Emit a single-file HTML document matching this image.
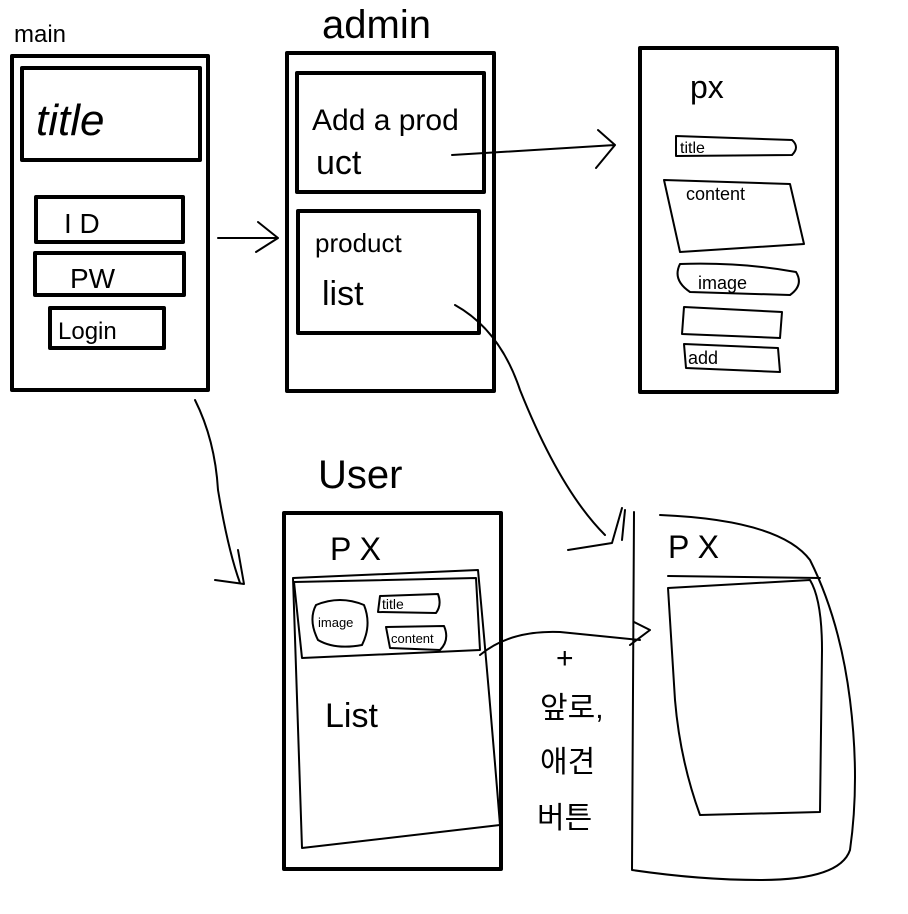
<!DOCTYPE html>
<html><head><meta charset="utf-8"><style>
html,body{margin:0;padding:0;background:#fff;width:908px;height:914px;overflow:hidden}
svg{display:block}
text{font-family:"Liberation Sans","Noto Sans CJK KR",sans-serif;fill:#000}
</style></head><body>
<svg width="908" height="914" viewBox="0 0 908 914" xmlns="http://www.w3.org/2000/svg">
<g fill="none" stroke="#000" stroke-width="4" stroke-linejoin="round" stroke-linecap="round">
<!-- main -->
<rect x="12" y="56" width="196" height="334"/>
<rect x="22" y="68" width="178" height="92"/>
<rect x="36" y="197" width="147" height="45"/>
<rect x="35" y="253" width="149" height="42"/>
<rect x="50" y="308" width="114" height="40"/>
<!-- arrow main->admin -->
<path d="M218 238 L278 238 M258 222 L278 238 L256 252" stroke-width="2"/>
<!-- admin -->
<rect x="287" y="53" width="207" height="338"/>
<rect x="297" y="73" width="187" height="119"/>
<rect x="298" y="211" width="181" height="122"/>
<path d="M452 155 L615 145 M598 130 L615 145 L596 168" stroke-width="2"/>
<!-- px box -->
<rect x="640" y="48" width="197" height="344"/>
<path d="M676 136 L792 140 Q800 147 792 155 L676 156 Z" stroke-width="2"/>
<path d="M664 180 L790 184 L804 244 L680 252 Z" stroke-width="2"/>
<path d="M680 264 Q742 262 796 272 Q804 285 790 295 L690 292 Q672 280 680 264 Z" stroke-width="2"/>
<path d="M684 307 L782 312 L780 338 L682 334 Z" stroke-width="2"/>
<path d="M684 344 L778 348 L780 372 L686 368 Z" stroke-width="2"/>
<!-- curve product list -> detail -->
<path d="M455 305 Q500 330 520 390 Q560 490 605 535" stroke-width="2"/>
<path d="M568 550 L612 543 L622 508" stroke-width="2"/>
<!-- main -> user -->
<path d="M195 400 Q215 440 218 490 Q228 550 240 583 M215 580 L244 584 L238 550" stroke-width="2"/>
<!-- user -->
<rect x="284" y="513" width="217" height="356"/>
<path d="M293 578 L478 570 Q490 700 500 825 L302 848 L293 578" stroke-width="2"/>
<path d="M294 582 L476 578 L480 650 L302 658 Z" stroke-width="2"/>
<path d="M316 605 Q340 595 364 605 Q372 625 362 645 Q335 650 318 640 Q308 620 316 605 Z" stroke-width="2"/>
<path d="M380 596 L438 594 Q442 605 436 613 L378 612 Z" stroke-width="2"/>
<path d="M386 627 L444 626 Q450 640 440 650 L390 648 Z" stroke-width="2"/>
<path d="M480 655 Q510 630 560 632 Q600 636 640 640 M634 622 L650 630 L630 645" stroke-width="2"/>
<!-- right phone -->
<path d="M625 510 L622 540 M634 512 L632 870 Q700 880 760 880 Q840 880 850 850 Q860 780 850 700 Q840 620 810 560 Q780 520 660 515" stroke-width="2"/>
<path d="M668 576 L820 578" stroke-width="2"/>
<path d="M668 588 L810 580 Q822 600 822 650 L820 812 L700 815 Q680 760 675 700 L668 588 Z" stroke-width="2"/>
</g>
<text x="14" y="42" font-size="24">main</text>
<text x="36" y="135" font-size="44" font-style="italic">title</text>
<text x="64" y="233" font-size="28">I D</text>
<text x="70" y="288" font-size="28">PW</text>
<text x="58" y="339" font-size="24">Login</text>
<text x="322" y="38" font-size="40">admin</text>
<text x="312" y="130" font-size="30">Add a prod</text>
<text x="316" y="174" font-size="34">uct</text>
<text x="315" y="252" font-size="26">product</text>
<text x="322" y="305" font-size="34">list</text>
<text x="690" y="98" font-size="32">px</text>
<text x="680" y="153" font-size="16">title</text>
<text x="686" y="200" font-size="18">content</text>
<text x="698" y="289" font-size="18">image</text>
<text x="688" y="364" font-size="18">add</text>
<text x="318" y="488" font-size="40">User</text>
<text x="330" y="560" font-size="32">P X</text>
<text x="318" y="627" font-size="13">image</text>
<text x="382" y="609" font-size="14">title</text>
<text x="391" y="643" font-size="13">content</text>
<text x="325" y="727" font-size="34">List</text>
<text x="556" y="668" font-size="30">+</text>
<text x="540" y="718" font-size="30">앞로,</text>
<text x="540" y="772" font-size="30">애견</text>
<text x="537" y="828" font-size="30">버튼</text>
<text x="668" y="558" font-size="32">P X</text>
</svg>
</body></html>
